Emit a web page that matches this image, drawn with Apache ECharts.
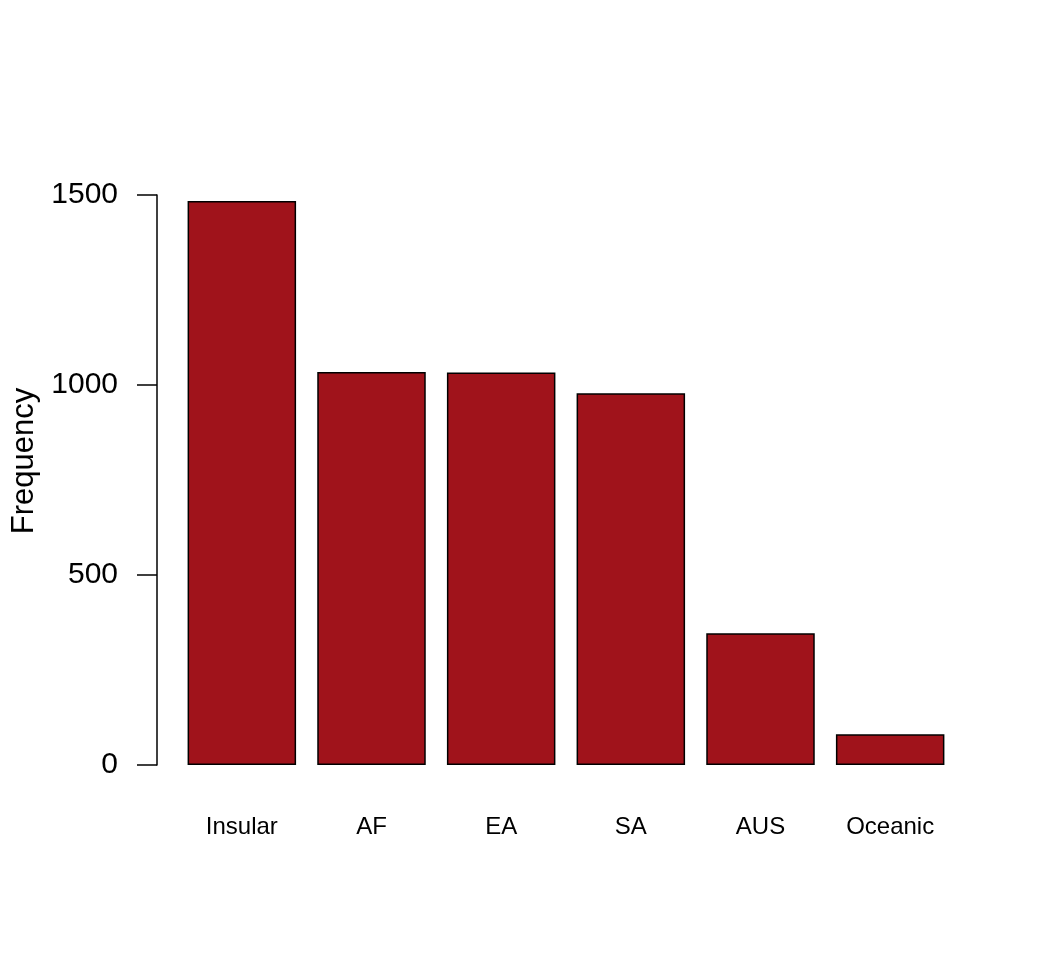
<!DOCTYPE html>
<html>
<head>
<meta charset="utf-8">
<script src="https://cdn.jsdelivr.net/npm/echarts@6/dist/echarts.min.js"></script>
<style>
html,body{margin:0;padding:0;background:#fff;}
#chart{width:1056px;height:960px;}
</style>
</head>
<body>
<div id="chart"></div>
<script>
const categories = ["Insular", "AF", "EA", "SA", "AUS", "Oceanic"];
const frequency = [1484, 1034, 1033, 978, 347, 81];
const yTicks = [0, 500, 1000, 1500];
const yLabel = "Frequency";

const FONT = "'Liberation Sans', Arial, Helvetica, sans-serif";
const chart = echarts.init(document.getElementById('chart'), null, {renderer: 'canvas'});
chart.setOption({
  backgroundColor: '#ffffff',
  animation: false,
  grid: {left: 177, right: 101, top: 195, bottom: 195, containLabel: false},
  xAxis: {
    type: 'category',
    data: categories,
    axisLine: {show: false},
    axisTick: {show: false},
    axisLabel: {
      margin: 50,
      fontFamily: FONT,
      fontSize: 24,
      color: '#000',
      lineHeight: 24,
      interval: 0
    }
  },
  yAxis: {
    type: 'value',
    min: yTicks[0],
    max: yTicks[yTicks.length - 1],
    interval: 500,
    offset: 20,
    axisLine: {show: true, lineStyle: {color: '#000', width: 1.5}},
    axisTick: {show: true, length: 20, lineStyle: {color: '#000', width: 1.5}},
    splitLine: {show: false},
    axisLabel: {
      margin: 39,
      fontFamily: FONT,
      fontSize: 30,
      color: '#000',
      padding: [5, 0, 0, 0],
      formatter: function (v) { return String(v); }
    }
  },
  graphic: [{
    type: 'text',
    x: 24,
    y: 461,
    rotation: Math.PI / 2,
    style: {
      text: yLabel,
      fontFamily: FONT,
      fontSize: 31,
      fill: '#000',
      textAlign: 'center',
      textVerticalAlign: 'middle'
    }
  }],
  series: [{
    type: 'bar',
    data: frequency,
    barWidth: 108.5,
    itemStyle: {color: '#A0131B', borderColor: '#000', borderWidth: 1.5}
  }]
});
</script>
</body>
</html>
